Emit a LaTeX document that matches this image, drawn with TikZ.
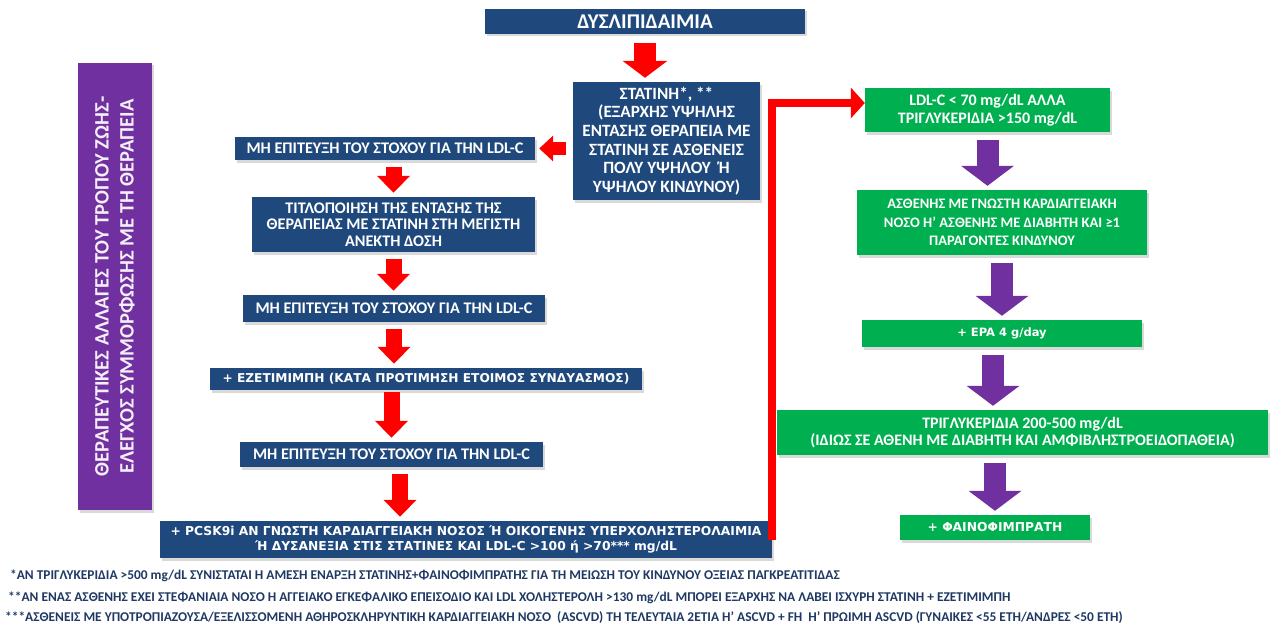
\documentclass[tikz,border=0pt]{standalone}
\usepackage{fontspec}
\setmainfont{Carlito}
\newfontfamily\verd{DejaVu Sans}
\usetikzlibrary{arrows.meta}
\usetikzlibrary{shadows}

\definecolor{navyblue}{HTML}{1F497D}
\definecolor{okgreen}{HTML}{00B050}
\definecolor{violet}{HTML}{7030A0}
\definecolor{notecol}{HTML}{1F3864}

\begin{document}
\begin{tikzpicture}
	[x=1pt,y=-1pt,
	shade/.style={drop shadow={shadow xshift=1.5pt,shadow yshift=-2.5pt,opacity=0.3}},
	bluebox/.style={fill=navyblue, text=white, inner sep=0pt, align=center, shade, font=\fontsize{16.2}{16.5}\selectfont\bfseries},
	greenbox/.style={fill=okgreen, text=white, inner sep=0pt, align=center, shade, font=\fontsize{16}{18.5}\selectfont\bfseries},
	redarr/.style={draw=red, line width=16pt, -{Triangle[width=32pt,length=17pt]}, shorten <=7pt, shorten >=4pt},
	purparr/.style={draw=violet, line width=22pt, -{Triangle[width=52pt,length=20pt]}, shorten <=8pt, shorten >=4pt},
	note/.style={anchor=west, inner sep=0pt, text=notecol, font=\fontsize{13.4}{15}\selectfont\bfseries}]
	\useasboundingbox (0,0) rectangle (1285,626);

	%left column
	\node (dys) [bluebox, minimum width=320, minimum height=25, font=\fontsize{21}{24}\selectfont\bfseries] at (645,21.5) {ΔΥΣΛΙΠΙΔΑΙΜΙΑ};
	\node (stat) [bluebox, minimum width=187, minimum height=118, font=\fontsize{17.2}{18.6}\selectfont\bfseries] at (666.5,141)
		{ΣΤΑΤΙΝΗ*, **\\(ΕΞΑΡΧΗΣ ΥΨΗΛΗΣ\\ΕΝΤΑΣΗΣ ΘΕΡΑΠΕΙΑ ΜΕ\\ΣΤΑΤΙΝΗ ΣΕ ΑΣΘΕΝΕΙΣ\\ΠΟΛΥ ΥΨΗΛΟΥ\hspace{4pt} Ή\\ΥΨΗΛΟΥ ΚΙΝΔΥΝΟΥ)};
	\node (fail1) [bluebox, minimum width=300, minimum height=23] at (385,148.5) {ΜΗ ΕΠΙΤΕΥΞΗ ΤΟΥ ΣΤΟΧΟΥ ΓΙΑ ΤΗΝ LDL-C};
	\node (titr) [bluebox, minimum width=283, minimum height=55] at (393.5,224.5)
		{ΤΙΤΛΟΠΟΙΗΣΗ ΤΗΣ ΕΝΤΑΣΗΣ ΤΗΣ\\ΘΕΡΑΠΕΙΑΣ ΜΕ ΣΤΑΤΙΝΗ ΣΤΗ ΜΕΓΙΣΤΗ\\ΑΝΕΚΤΗ ΔΟΣΗ};
	\node (fail2) [bluebox, minimum width=302, minimum height=27] at (394,308.5) {ΜΗ ΕΠΙΤΕΥΞΗ ΤΟΥ ΣΤΟΧΟΥ ΓΙΑ ΤΗΝ LDL-C};
	\node (ezet) [bluebox, minimum width=432, minimum height=22, font=\verd\fontsize{12.2}{14}\selectfont\bfseries] at (426,379)
		{+ ΕΖΕΤΙΜΙΜΠΗ (ΚΑΤΑ ΠΡΟΤΙΜΗΣΗ ΕΤΟΙΜΟΣ ΣΥΝΔΥΑΣΜΟΣ)};
	\node (fail3) [bluebox, minimum width=303, minimum height=25] at (391.5,454.5) {ΜΗ ΕΠΙΤΕΥΞΗ ΤΟΥ ΣΤΟΧΟΥ ΓΙΑ ΤΗΝ LDL-C};
	\node (pcsk) [bluebox, minimum width=612, minimum height=37, font=\verd\fontsize{12.3}{15}\selectfont\bfseries] at (466,539.5)
		{+ PCSK9i ΑΝ ΓΝΩΣΤΗ ΚΑΡΔΙΑΓΓΕΙΑΚΗ ΝΟΣΟΣ Ή ΟΙΚΟΓΕΝΗΣ ΥΠΕΡΧΟΛΗΣΤΕΡΟΛΑΙΜΙΑ\\Ή ΔΥΣΑΝΕΞΙΑ ΣΤΙΣ ΣΤΑΤΙΝΕΣ ΚΑΙ LDL-C >100 ή >70*** mg/dL};

	%lifestyle
	\node (life) [fill=violet, text=white!92!violet, inner sep=0pt, align=center, shade, rotate=90,
		minimum width=447, minimum height=74, font=\fontsize{20.5}{25}\selectfont\bfseries] at (115,286.5)
		{ΘΕΡΑΠΕΥΤΙΚΕΣ ΑΛΛΑΓΕΣ ΤΟΥ ΤΡΟΠΟΥ ΖΩΗΣ-\\ΕΛΕΓΧΟΣ ΣΥΜΜΟΡΦΩΣΗΣ ΜΕ ΤΗ ΘΕΡΑΠΕΙΑ};

	%right column
	\node (trig) [greenbox, minimum width=245, minimum height=44] at (987.5,110) {LDL-C < 70 mg/dL ΑΛΛΑ\\ΤΡΙΓΛΥΚΕΡΙΔΙΑ >150 mg/dL};
	\node (risk) [greenbox, minimum width=290, minimum height=65, font=\fontsize{14.5}{18.5}\selectfont\bfseries] at (1002,222.5)
		{ΑΣΘΕΝΗΣ ΜΕ ΓΝΩΣΤΗ ΚΑΡΔΙΑΓΓΕΙΑΚΗ\\ΝΟΣΟ Η’ ΑΣΘΕΝΗΣ ΜΕ ΔΙΑΒΗΤΗ ΚΑΙ ≥1\\ΠΑΡΑΓΟΝΤΕΣ ΚΙΝΔΥΝΟΥ};
	\node (epa) [greenbox, minimum width=280, minimum height=27, font=\verd\fontsize{11.5}{13}\selectfont\bfseries] at (1002,333.5) {+ EPA 4 g/day};
	\node (tg) [greenbox, minimum width=491, minimum height=45, font=\fontsize{16}{17}\selectfont\bfseries] at (1022.5,432.5)
		{ΤΡΙΓΛΥΚΕΡΙΔΙΑ 200-500 mg/dL\\(ΙΔΙΩΣ ΣΕ ΑΘΕΝΗ ΜΕ ΔΙΑΒΗΤΗ ΚΑΙ ΑΜΦΙΒΛΗΣΤΡΟΕΙΔΟΠΑΘΕΙΑ)};
	\node (fib) [greenbox, minimum width=190, minimum height=25, font=\verd\fontsize{12.3}{14}\selectfont\bfseries] at (995,527.5) {+ ΦΑΙΝΟΦΙΜΠΡΑΤΗ};

	%arrows
	\draw[redarr, line width=22pt, -{Triangle[width=44pt,length=17pt]}, shorten <=9pt] (dys.south) -- (dys.south |- stat.north);
	\draw[redarr, line width=13pt, -{Triangle[width=25pt,length=14pt]}] (stat.west |- fail1.east) -- (fail1.east);
	\draw[redarr] (fail1.south -| titr) -- (titr.north);
	\draw[redarr] (titr.south) -- (titr.south |- fail2.north);
	\draw[redarr] (fail2.south) -- (fail2.south |- ezet.north);
	\draw[redarr, shorten <=2pt] (ezet.south -| fail3) -- (fail3.north);
	\draw[redarr] (fail3.south -| 400,0) -- (pcsk.north -| 400,0);
	\draw[draw=red, line width=8pt, -{Triangle[width=30pt,length=14pt]}] (pcsk.east) |- ([yshift=7pt]trig.west);

	\draw[purparr] (trig.south) -- (trig.south |- risk.north);
	\draw[purparr] (risk.south -| epa) -- (epa.north);
	\draw[purparr] (epa.south -| 993,0) -- (tg.north -| 993,0);
	\draw[purparr] (tg.south -| fib) -- (fib.north);

	%notes
	\node (note1) [note] at (10,576) {*ΑΝ ΤΡΙΓΛΥΚΕΡΙΔΙΑ >500 mg/dL ΣΥΝΙΣΤΑΤΑΙ Η ΑΜΕΣΗ ΕΝΑΡΞΗ ΣΤΑΤΙΝΗΣ+ΦΑΙΝΟΦΙΜΠΡΑΤΗΣ ΓΙΑ ΤΗ ΜΕΙΩΣΗ ΤΟΥ ΚΙΝΔΥΝΟΥ ΟΞΕΙΑΣ ΠΑΓΚΡΕΑΤΙΤΙΔΑΣ};
	\node (note2) [note] at (8,598) {**ΑΝ ΕΝΑΣ ΑΣΘΕΝΗΣ ΕΧΕΙ ΣΤΕΦΑΝΙΑΙΑ ΝΟΣΟ Η ΑΓΓΕΙΑΚΟ ΕΓΚΕΦΑΛΙΚΟ ΕΠΕΙΣΟΔΙΟ ΚΑΙ LDL ΧΟΛΗΣΤΕΡΟΛΗ >130 mg/dL ΜΠΟΡΕΙ ΕΞΑΡΧΗΣ ΝΑ ΛΑΒΕΙ ΙΣΧΥΡΗ ΣΤΑΤΙΝΗ + ΕΖΕΤΙΜΙΜΠΗ};
	\node (note3) [note] at (5,618) {***ΑΣΘΕΝΕΙΣ ΜΕ ΥΠΟΤΡΟΠΙΑΖΟΥΣΑ/ΕΞΕΛΙΣΣΟΜΕΝΗ ΑΘΗΡΟΣΚΛΗΡΥΝΤΙΚΗ ΚΑΡΔΙΑΓΓΕΙΑΚΗ ΝΟΣΟ\ \ (ASCVD) ΤΗ ΤΕΛΕΥΤΑΙΑ 2ΕΤΙΑ Η’ ASCVD + FH\ \ Η’ ΠΡΩΙΜΗ ASCVD (ΓΥΝΑΙΚΕΣ <55 ΕΤΗ/ΑΝΔΡΕΣ <50 ΕΤΗ)};
\end{tikzpicture}
\end{document}
